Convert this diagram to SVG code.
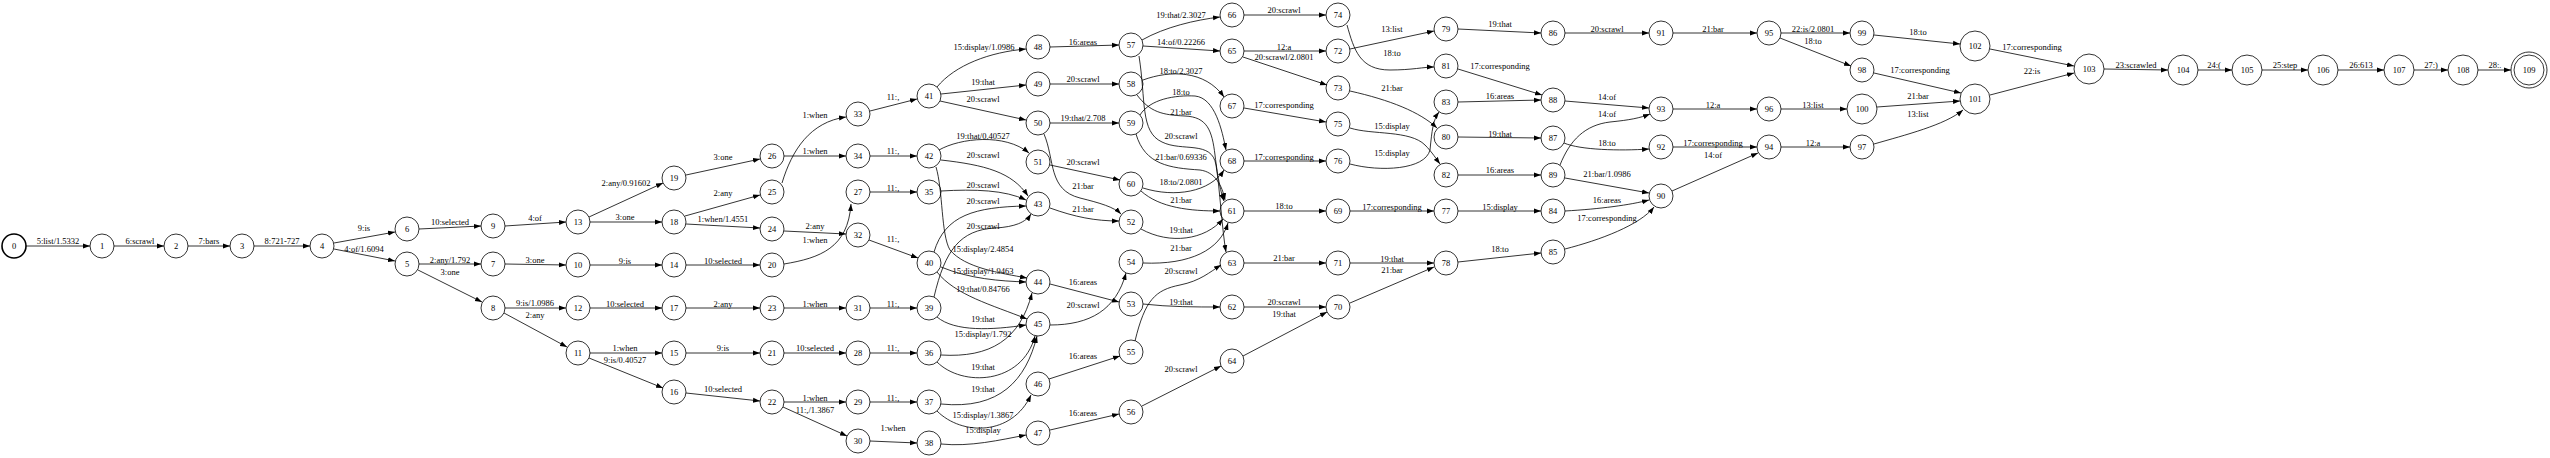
<svg xmlns="http://www.w3.org/2000/svg" width="2550" height="458" viewBox="0 0 2550 458">
<style>
.n circle{fill:none;stroke:#000;stroke-width:0.8}
.n text,.e text{font-family:"Liberation Serif","Times New Roman",serif;font-size:8.5px;text-anchor:middle;fill:#000}
.e path{fill:none;stroke:#000;stroke-width:0.8;marker-end:url(#a)}
</style>
<defs><marker id="a" markerWidth="8" markerHeight="6" refX="7" refY="3" orient="auto" markerUnits="userSpaceOnUse"><path d="M0,0.5 L7,3 L0,5.5 z" fill="#000"/></marker></defs>
<rect width="2550" height="458" fill="#fff"/>
<g id="connectors" class="e">
<path d="M26,246 L90,246"/><text x="58" y="244">5:list/1.5332</text>
<path d="M114,246 L164,246"/><text x="140" y="244">6:scrawl</text>
<path d="M188,246 L230,246"/><text x="209" y="244">7:bars</text>
<path d="M254,246 L310,246"/><text x="282" y="244">8:721-727</text>
<path d="M334,243 L395,232"/><text x="364" y="231">9:is</text>
<path d="M334,249 L395,261"/><text x="364" y="252">4:of/1.6094</text>
<path d="M419,229 L481,226"/><text x="450" y="225">10:selected</text>
<path d="M419,264 L481,264"/><text x="450" y="263">2:any/1.792</text>
<path d="M418,270 L482,302"/><text x="450" y="275">3:one</text>
<path d="M505,226 L566,222"/><text x="535" y="221">4:of</text>
<path d="M505,264 L566,265"/><text x="535" y="263">3:one</text>
<path d="M505,308 L566,308"/><text x="535" y="306">9:is/1.0986</text>
<path d="M504,313 L567,347"/><text x="535" y="318">2:any</text>
<path d="M589,217 L663,183"/><text x="626" y="186">2:any/0.91602</text>
<path d="M590,222 L662,222"/><text x="625" y="220">3:one</text>
<path d="M686,175 L760,159"/><text x="723" y="160">3:one</text>
<path d="M685,216 L760,195"/><text x="723" y="196">2:any</text>
<path d="M686,224 L760,228"/><text x="723" y="222">1:when/1.4551</text>
<path d="M590,265 L662,265"/><text x="625" y="264">9:is</text>
<path d="M686,265 L760,265"/><text x="723" y="264">10:selected</text>
<path d="M590,308 L662,308"/><text x="625" y="307">10:selected</text>
<path d="M686,308 L760,308"/><text x="723" y="307">2:any</text>
<path d="M590,353 L662,353"/><text x="625" y="351">1:when</text>
<path d="M589,358 L663,388"/><text x="625" y="363">9:is/0.40527</text>
<path d="M686,353 L760,353"/><text x="723" y="351">9:is</text>
<path d="M686,393 L760,401"/><text x="723" y="392">10:selected</text>
<path d="M782,183 C792,150 810,122 846,117"/><text x="815" y="118">1:when</text>
<path d="M784,156 L846,156"/><text x="815" y="154">1:when</text>
<path d="M784,231 L846,234"/><text x="815" y="229">2:any</text>
<path d="M784,264 C820,258 848,248 851,204"/><text x="815" y="243">1:when</text>
<path d="M784,308 L846,308"/><text x="815" y="307">1:when</text>
<path d="M784,353 L846,353"/><text x="815" y="351">10:selected</text>
<path d="M784,402 L846,402"/><text x="815" y="401">1:when</text>
<path d="M783,407 L847,436"/><text x="815" y="413">11:,/1.3867</text>
<path d="M870,111 L917,99"/><text x="893" y="100">11:,</text>
<path d="M870,156 L917,156"/><text x="893" y="154">11:,</text>
<path d="M870,192 L917,192"/><text x="893" y="191">11:,</text>
<path d="M869,240 L918,258"/><text x="893" y="242">11:,</text>
<path d="M870,308 L917,308"/><text x="893" y="307">11:,</text>
<path d="M870,353 L917,353"/><text x="893" y="351">11:,</text>
<path d="M870,402 L917,402"/><text x="893" y="401">11:,</text>
<path d="M870,441 L917,443"/><text x="893" y="431">1:when</text>
<path d="M937,87 C955,65 990,52 1026,49"/><text x="984" y="50">15:display/1.0986</text>
<path d="M941,94 L1026,85"/><text x="983" y="85">19:that</text>
<path d="M940,101 L1026,120"/><text x="983" y="102">20:scrawl</text>
<path d="M939,150 C960,138 1005,133 1029,153"/><text x="983" y="139">19:that/0.40527</text>
<path d="M941,160 C985,165 1012,172 1028,196"/><text x="983" y="158">20:scrawl</text>
<path d="M941,191 C975,189 1005,190 1026,200"/><text x="983" y="188">20:scrawl</text>
<path d="M934,252 C945,215 975,207 1026,206"/><text x="983" y="204">20:scrawl</text>
<path d="M934,297 C945,250 960,230 995,228 C1015,227 1026,222 1031,214"/><text x="983" y="229">20:scrawl</text>
<path d="M936,167 C943,190 941,235 950,250 C965,268 1000,273 1027,278"/><text x="983" y="252">15:display/2.4854</text>
<path d="M941,267 C970,279 1000,281 1026,282"/><text x="983" y="274">15:display/1.9463</text>
<path d="M937,272 C955,295 992,305 1027,319"/><text x="983" y="292">19:that/0.84766</text>
<path d="M937,317 C955,332 992,330 1026,325"/><text x="983" y="322">19:that</text>
<path d="M941,355 C990,358 1020,340 1032,293"/><text x="983" y="337">15:display/1.792</text>
<path d="M937,362 C962,387 1022,385 1035,336"/><text x="983" y="370">19:that</text>
<path d="M941,404 C1000,410 1026,380 1037,336"/><text x="983" y="392">19:that</text>
<path d="M937,411 C962,436 1012,436 1031,395"/><text x="983" y="418">15:display/1.3867</text>
<path d="M941,444 C970,447 1000,440 1026,435"/><text x="983" y="433">15:display</text>
<path d="M1050,47 L1119,45"/><text x="1083" y="45">16:areas</text>
<path d="M1050,84 L1119,84"/><text x="1083" y="82">20:scrawl</text>
<path d="M1050,123 L1119,123"/><text x="1083" y="121">19:that/2.708</text>
<path d="M1050,165 L1120,180"/><text x="1083" y="165">20:scrawl</text>
<path d="M1050,208 C1075,217 1095,221 1119,221"/><text x="1083" y="212">21:bar</text>
<path d="M1044,134 C1055,160 1048,190 1080,198 C1100,203 1114,207 1121,214"/><text x="1083" y="189">21:bar</text>
<path d="M1050,284 L1119,302"/><text x="1083" y="285">16:areas</text>
<path d="M1050,325 C1090,325 1116,310 1126,273"/><text x="1083" y="308">20:scrawl</text>
<path d="M1049,379 L1120,356"/><text x="1083" y="359">16:areas</text>
<path d="M1050,430 L1119,414"/><text x="1083" y="416">16:areas</text>
<path d="M1142,40 C1165,27 1195,20 1220,17"/><text x="1181" y="18">19:that/2.3027</text>
<path d="M1143,46 L1220,51"/><text x="1181" y="45">14:of/0.22266</text>
<path d="M1139,56 C1146,100 1140,132 1162,142 C1182,152 1212,140 1216,165 C1220,190 1222,230 1226,252"/><text x="1181" y="139">20:scrawl</text>
<path d="M1137,95 C1150,112 1162,115 1185,116 C1207,117 1212,130 1215,155 C1218,180 1221,193 1224,201"/><text x="1181" y="115">21:bar</text>
<path d="M1143,80 C1170,70 1205,70 1224,97"/><text x="1181" y="74">18:to/2.3027</text>
<path d="M1140,115 C1150,99 1175,95 1195,96 C1215,98 1222,130 1226,150"/><text x="1181" y="95">18:to</text>
<path d="M1136,134 C1145,165 1170,168 1200,170 C1215,172 1222,185 1225,200"/><text x="1181" y="160">21:bar/0.69336</text>
<path d="M1143,188 C1175,198 1210,192 1224,170"/><text x="1181" y="185">18:to/2.0801</text>
<path d="M1141,191 C1160,208 1190,211 1220,211"/><text x="1181" y="203">21:bar</text>
<path d="M1141,229 C1170,245 1205,240 1223,219"/><text x="1181" y="233">19:that</text>
<path d="M1143,263 C1190,265 1220,250 1228,223"/><text x="1181" y="251">21:bar</text>
<path d="M1135,341 C1145,300 1155,290 1180,285 C1200,281 1210,272 1221,265"/><text x="1181" y="274">20:scrawl</text>
<path d="M1143,304 C1170,307 1195,307 1220,307"/><text x="1181" y="305">19:that</text>
<path d="M1142,406 L1221,366"/><text x="1181" y="372">20:scrawl</text>
<path d="M1244,15 L1326,15"/><text x="1284" y="13">20:scrawl</text>
<path d="M1244,51 L1326,51"/><text x="1284" y="50">12:a</text>
<path d="M1243,57 L1327,85"/><text x="1284" y="60">20:scrawl/2.0801</text>
<path d="M1244,108 L1326,122"/><text x="1284" y="108">17:corresponding</text>
<path d="M1244,161 L1326,161"/><text x="1284" y="160">17:corresponding</text>
<path d="M1244,211 L1326,211"/><text x="1284" y="209">18:to</text>
<path d="M1244,263 L1326,263"/><text x="1284" y="261">21:bar</text>
<path d="M1244,307 L1326,307"/><text x="1284" y="305">20:scrawl</text>
<path d="M1243,356 L1327,312"/><text x="1284" y="317">19:that</text>
<path d="M1350,49 L1434,31"/><text x="1392" y="32">13:list</text>
<path d="M1347,25 C1354,50 1360,70 1390,70 C1412,70 1424,67 1434,67"/><text x="1392" y="56">18:to</text>
<path d="M1350,91 C1390,100 1420,112 1437,128"/><text x="1392" y="91">21:bar</text>
<path d="M1350,128 C1372,135 1410,130 1425,145 C1432,152 1437,160 1440,164"/><text x="1392" y="129">15:display</text>
<path d="M1350,164 C1380,172 1425,170 1430,150 C1432,130 1433,120 1439,112"/><text x="1392" y="156">15:display</text>
<path d="M1350,211 L1434,211"/><text x="1392" y="210">17:corresponding</text>
<path d="M1350,263 L1434,263"/><text x="1392" y="262">19:that</text>
<path d="M1350,303 L1434,267"/><text x="1392" y="273">21:bar</text>
<path d="M1458,29 L1541,33"/><text x="1500" y="27">19:that</text>
<path d="M1458,69 L1542,95"/><text x="1500" y="69">17:corresponding</text>
<path d="M1458,102 L1541,100"/><text x="1500" y="99">16:areas</text>
<path d="M1458,137 L1541,138"/><text x="1500" y="137">19:that</text>
<path d="M1458,175 L1541,175"/><text x="1500" y="173">16:areas</text>
<path d="M1458,211 L1541,211"/><text x="1500" y="210">15:display</text>
<path d="M1458,262 L1541,253"/><text x="1500" y="252">18:to</text>
<path d="M1565,33 L1649,33"/><text x="1607" y="32">20:scrawl</text>
<path d="M1565,101 L1649,108"/><text x="1607" y="100">14:of</text>
<path d="M1560,165 C1570,140 1585,125 1610,122 C1630,120 1640,118 1650,114"/><text x="1607" y="117">14:of</text>
<path d="M1564,143 C1580,150 1620,151 1649,149"/><text x="1607" y="146">18:to</text>
<path d="M1565,178 L1649,193"/><text x="1607" y="177">21:bar/1.0986</text>
<path d="M1565,211 C1600,209 1630,205 1649,200"/><text x="1607" y="203">16:areas</text>
<path d="M1565,249 C1600,240 1640,225 1654,207"/><text x="1607" y="221">17:corresponding</text>
<path d="M1673,33 L1757,33"/><text x="1713" y="32">21:bar</text>
<path d="M1673,109 L1757,109"/><text x="1713" y="108">12:a</text>
<path d="M1673,147 L1757,147"/><text x="1713" y="146">17:corresponding</text>
<path d="M1672,191 L1758,153"/><text x="1713" y="158">14:of</text>
<path d="M1781,33 L1850,33"/><text x="1813" y="32">22:is/2.0801</text>
<path d="M1780,38 L1851,66"/><text x="1813" y="44">18:to</text>
<path d="M1781,109 L1847,109"/><text x="1813" y="108">13:list</text>
<path d="M1781,147 L1850,147"/><text x="1813" y="146">12:a</text>
<path d="M1874,35 L1960,44"/><text x="1918" y="35">18:to</text>
<path d="M1874,73 L1961,93"/><text x="1920" y="73">17:corresponding</text>
<path d="M1877,107 L1960,101"/><text x="1918" y="99">21:bar</text>
<path d="M1874,144 C1905,135 1945,125 1963,110"/><text x="1918" y="117">13:list</text>
<path d="M1990,49 L2074,66"/><text x="2032" y="50">17:corresponding</text>
<path d="M1990,95 L2074,73"/><text x="2032" y="74">22:is</text>
<path d="M2104,69 L2168,70"/><text x="2136" y="68">23:scrawled</text>
<path d="M2198,70 L2232,70"/><text x="2214" y="68">24:(</text>
<path d="M2262,70 L2308,70"/><text x="2285" y="68">25:step</text>
<path d="M2338,70 L2384,70"/><text x="2361" y="68">26:613</text>
<path d="M2414,70 L2448,70"/><text x="2431" y="68">27:)</text>
<path d="M2478,70 L2511,70"/><text x="2495" y="68">28:.</text>
</g>
<g id="n0" class="n"><circle cx="14" cy="246" r="12" style="stroke-width:1.6"/><text x="14" y="249">0</text></g>
<g id="n1" class="n"><circle cx="102" cy="246" r="12"/><text x="102" y="249">1</text></g>
<g id="n2" class="n"><circle cx="176" cy="246" r="12"/><text x="176" y="249">2</text></g>
<g id="n3" class="n"><circle cx="242" cy="246" r="12"/><text x="242" y="249">3</text></g>
<g id="n4" class="n"><circle cx="322" cy="246" r="12"/><text x="322" y="249">4</text></g>
<g id="n5" class="n"><circle cx="407" cy="264" r="12"/><text x="407" y="267">5</text></g>
<g id="n6" class="n"><circle cx="407" cy="229" r="12"/><text x="407" y="232">6</text></g>
<g id="n7" class="n"><circle cx="493" cy="264" r="12"/><text x="493" y="267">7</text></g>
<g id="n8" class="n"><circle cx="493" cy="308" r="12"/><text x="493" y="311">8</text></g>
<g id="n9" class="n"><circle cx="493" cy="226" r="12"/><text x="493" y="229">9</text></g>
<g id="n10" class="n"><circle cx="578" cy="265" r="12"/><text x="578" y="268">10</text></g>
<g id="n11" class="n"><circle cx="578" cy="353" r="12"/><text x="578" y="356">11</text></g>
<g id="n12" class="n"><circle cx="578" cy="308" r="12"/><text x="578" y="311">12</text></g>
<g id="n13" class="n"><circle cx="578" cy="222" r="12"/><text x="578" y="225">13</text></g>
<g id="n14" class="n"><circle cx="674" cy="265" r="12"/><text x="674" y="268">14</text></g>
<g id="n15" class="n"><circle cx="674" cy="353" r="12"/><text x="674" y="356">15</text></g>
<g id="n16" class="n"><circle cx="674" cy="392" r="12"/><text x="674" y="395">16</text></g>
<g id="n17" class="n"><circle cx="674" cy="308" r="12"/><text x="674" y="311">17</text></g>
<g id="n18" class="n"><circle cx="674" cy="222" r="12"/><text x="674" y="225">18</text></g>
<g id="n19" class="n"><circle cx="674" cy="178" r="12"/><text x="674" y="181">19</text></g>
<g id="n20" class="n"><circle cx="772" cy="265" r="12"/><text x="772" y="268">20</text></g>
<g id="n21" class="n"><circle cx="772" cy="353" r="12"/><text x="772" y="356">21</text></g>
<g id="n22" class="n"><circle cx="772" cy="402" r="12"/><text x="772" y="405">22</text></g>
<g id="n23" class="n"><circle cx="772" cy="308" r="12"/><text x="772" y="311">23</text></g>
<g id="n24" class="n"><circle cx="772" cy="229" r="12"/><text x="772" y="232">24</text></g>
<g id="n25" class="n"><circle cx="772" cy="192" r="12"/><text x="772" y="195">25</text></g>
<g id="n26" class="n"><circle cx="772" cy="156" r="12"/><text x="772" y="159">26</text></g>
<g id="n27" class="n"><circle cx="858" cy="192" r="12"/><text x="858" y="195">27</text></g>
<g id="n28" class="n"><circle cx="858" cy="353" r="12"/><text x="858" y="356">28</text></g>
<g id="n29" class="n"><circle cx="858" cy="402" r="12"/><text x="858" y="405">29</text></g>
<g id="n30" class="n"><circle cx="858" cy="441" r="12"/><text x="858" y="444">30</text></g>
<g id="n31" class="n"><circle cx="858" cy="308" r="12"/><text x="858" y="311">31</text></g>
<g id="n32" class="n"><circle cx="858" cy="235" r="12"/><text x="858" y="238">32</text></g>
<g id="n33" class="n"><circle cx="858" cy="114" r="12"/><text x="858" y="117">33</text></g>
<g id="n34" class="n"><circle cx="858" cy="156" r="12"/><text x="858" y="159">34</text></g>
<g id="n35" class="n"><circle cx="929" cy="192" r="12"/><text x="929" y="195">35</text></g>
<g id="n36" class="n"><circle cx="929" cy="353" r="12"/><text x="929" y="356">36</text></g>
<g id="n37" class="n"><circle cx="929" cy="402" r="12"/><text x="929" y="405">37</text></g>
<g id="n38" class="n"><circle cx="929" cy="443" r="12"/><text x="929" y="446">38</text></g>
<g id="n39" class="n"><circle cx="929" cy="308" r="12"/><text x="929" y="311">39</text></g>
<g id="n40" class="n"><circle cx="929" cy="263" r="12"/><text x="929" y="266">40</text></g>
<g id="n41" class="n"><circle cx="929" cy="96" r="12"/><text x="929" y="99">41</text></g>
<g id="n42" class="n"><circle cx="929" cy="156" r="12"/><text x="929" y="159">42</text></g>
<g id="n43" class="n"><circle cx="1038" cy="204" r="12"/><text x="1038" y="207">43</text></g>
<g id="n44" class="n"><circle cx="1038" cy="282" r="12"/><text x="1038" y="285">44</text></g>
<g id="n45" class="n"><circle cx="1038" cy="324" r="12"/><text x="1038" y="327">45</text></g>
<g id="n46" class="n"><circle cx="1038" cy="384" r="12"/><text x="1038" y="387">46</text></g>
<g id="n47" class="n"><circle cx="1038" cy="433" r="12"/><text x="1038" y="436">47</text></g>
<g id="n48" class="n"><circle cx="1038" cy="47" r="12"/><text x="1038" y="50">48</text></g>
<g id="n49" class="n"><circle cx="1038" cy="84" r="12"/><text x="1038" y="87">49</text></g>
<g id="n50" class="n"><circle cx="1038" cy="123" r="12"/><text x="1038" y="126">50</text></g>
<g id="n51" class="n"><circle cx="1038" cy="162" r="12"/><text x="1038" y="165">51</text></g>
<g id="n52" class="n"><circle cx="1131" cy="222" r="12"/><text x="1131" y="225">52</text></g>
<g id="n53" class="n"><circle cx="1131" cy="304" r="12"/><text x="1131" y="307">53</text></g>
<g id="n54" class="n"><circle cx="1131" cy="262" r="12"/><text x="1131" y="265">54</text></g>
<g id="n55" class="n"><circle cx="1131" cy="352" r="12"/><text x="1131" y="355">55</text></g>
<g id="n56" class="n"><circle cx="1131" cy="412" r="12"/><text x="1131" y="415">56</text></g>
<g id="n57" class="n"><circle cx="1131" cy="45" r="12"/><text x="1131" y="48">57</text></g>
<g id="n58" class="n"><circle cx="1131" cy="84" r="12"/><text x="1131" y="87">58</text></g>
<g id="n59" class="n"><circle cx="1131" cy="123" r="12"/><text x="1131" y="126">59</text></g>
<g id="n60" class="n"><circle cx="1131" cy="184" r="12"/><text x="1131" y="187">60</text></g>
<g id="n61" class="n"><circle cx="1232" cy="211" r="12"/><text x="1232" y="214">61</text></g>
<g id="n62" class="n"><circle cx="1232" cy="307" r="12"/><text x="1232" y="310">62</text></g>
<g id="n63" class="n"><circle cx="1232" cy="263" r="12"/><text x="1232" y="266">63</text></g>
<g id="n64" class="n"><circle cx="1232" cy="361" r="12"/><text x="1232" y="364">64</text></g>
<g id="n65" class="n"><circle cx="1232" cy="51" r="12"/><text x="1232" y="54">65</text></g>
<g id="n66" class="n"><circle cx="1232" cy="15" r="12"/><text x="1232" y="18">66</text></g>
<g id="n67" class="n"><circle cx="1232" cy="106" r="12"/><text x="1232" y="109">67</text></g>
<g id="n68" class="n"><circle cx="1232" cy="161" r="12"/><text x="1232" y="164">68</text></g>
<g id="n69" class="n"><circle cx="1338" cy="211" r="12"/><text x="1338" y="214">69</text></g>
<g id="n70" class="n"><circle cx="1338" cy="307" r="12"/><text x="1338" y="310">70</text></g>
<g id="n71" class="n"><circle cx="1338" cy="263" r="12"/><text x="1338" y="266">71</text></g>
<g id="n72" class="n"><circle cx="1338" cy="51" r="12"/><text x="1338" y="54">72</text></g>
<g id="n73" class="n"><circle cx="1338" cy="88" r="12"/><text x="1338" y="91">73</text></g>
<g id="n74" class="n"><circle cx="1338" cy="15" r="12"/><text x="1338" y="18">74</text></g>
<g id="n75" class="n"><circle cx="1338" cy="124" r="12"/><text x="1338" y="127">75</text></g>
<g id="n76" class="n"><circle cx="1338" cy="161" r="12"/><text x="1338" y="164">76</text></g>
<g id="n77" class="n"><circle cx="1446" cy="211" r="12"/><text x="1446" y="214">77</text></g>
<g id="n78" class="n"><circle cx="1446" cy="263" r="12"/><text x="1446" y="266">78</text></g>
<g id="n79" class="n"><circle cx="1446" cy="29" r="12"/><text x="1446" y="32">79</text></g>
<g id="n80" class="n"><circle cx="1446" cy="137" r="12"/><text x="1446" y="140">80</text></g>
<g id="n81" class="n"><circle cx="1446" cy="66" r="12"/><text x="1446" y="69">81</text></g>
<g id="n82" class="n"><circle cx="1446" cy="175" r="12"/><text x="1446" y="178">82</text></g>
<g id="n83" class="n"><circle cx="1446" cy="102" r="12"/><text x="1446" y="105">83</text></g>
<g id="n84" class="n"><circle cx="1553" cy="211" r="12"/><text x="1553" y="214">84</text></g>
<g id="n85" class="n"><circle cx="1553" cy="252" r="12"/><text x="1553" y="255">85</text></g>
<g id="n86" class="n"><circle cx="1553" cy="33" r="12"/><text x="1553" y="36">86</text></g>
<g id="n87" class="n"><circle cx="1553" cy="138" r="12"/><text x="1553" y="141">87</text></g>
<g id="n88" class="n"><circle cx="1553" cy="100" r="12"/><text x="1553" y="103">88</text></g>
<g id="n89" class="n"><circle cx="1553" cy="175" r="12"/><text x="1553" y="178">89</text></g>
<g id="n90" class="n"><circle cx="1661" cy="196" r="12"/><text x="1661" y="199">90</text></g>
<g id="n91" class="n"><circle cx="1661" cy="33" r="12"/><text x="1661" y="36">91</text></g>
<g id="n92" class="n"><circle cx="1661" cy="147" r="12"/><text x="1661" y="150">92</text></g>
<g id="n93" class="n"><circle cx="1661" cy="109" r="12"/><text x="1661" y="112">93</text></g>
<g id="n94" class="n"><circle cx="1769" cy="147" r="12"/><text x="1769" y="150">94</text></g>
<g id="n95" class="n"><circle cx="1769" cy="33" r="12"/><text x="1769" y="36">95</text></g>
<g id="n96" class="n"><circle cx="1769" cy="109" r="12"/><text x="1769" y="112">96</text></g>
<g id="n97" class="n"><circle cx="1862" cy="147" r="12"/><text x="1862" y="150">97</text></g>
<g id="n98" class="n"><circle cx="1862" cy="70" r="12"/><text x="1862" y="73">98</text></g>
<g id="n99" class="n"><circle cx="1862" cy="33" r="12"/><text x="1862" y="36">99</text></g>
<g id="n100" class="n"><circle cx="1862" cy="109" r="15"/><text x="1862" y="112">100</text></g>
<g id="n101" class="n"><circle cx="1975" cy="99" r="15"/><text x="1975" y="102">101</text></g>
<g id="n102" class="n"><circle cx="1975" cy="46" r="15"/><text x="1975" y="49">102</text></g>
<g id="n103" class="n"><circle cx="2089" cy="69" r="15"/><text x="2089" y="72">103</text></g>
<g id="n104" class="n"><circle cx="2183" cy="70" r="15"/><text x="2183" y="73">104</text></g>
<g id="n105" class="n"><circle cx="2247" cy="70" r="15"/><text x="2247" y="73">105</text></g>
<g id="n106" class="n"><circle cx="2323" cy="70" r="15"/><text x="2323" y="73">106</text></g>
<g id="n107" class="n"><circle cx="2399" cy="70" r="15"/><text x="2399" y="73">107</text></g>
<g id="n108" class="n"><circle cx="2463" cy="70" r="15"/><text x="2463" y="73">108</text></g>
<g id="n109" class="n"><circle cx="2529" cy="70" r="15"/><circle cx="2529" cy="70" r="18"/><text x="2529" y="73">109</text></g>
</svg>
